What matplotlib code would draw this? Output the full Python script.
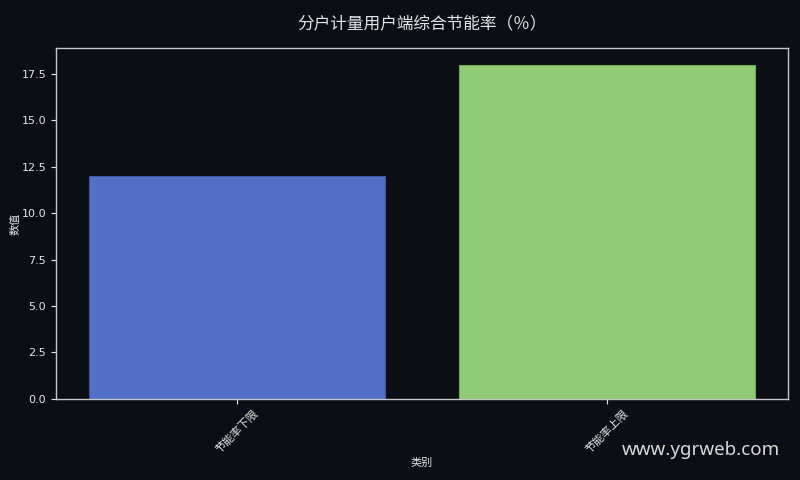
import matplotlib
matplotlib.use("Agg")
import matplotlib.pyplot as plt

# data
categories = ["节能率下限", "节能率上限"]
values = [12, 18]
bar_colors = ["#5470c6", "#91cc75"]
edge_colors = ["#3f56a0", "#6fa957"]

title = "分户计量用户端综合节能率（％）"
x_label = "类别"
y_label = "数值"
watermark = "www.ygrweb.com"

bg = "#0b0e14"
fg = "#e6e6e6"

plt.rcParams['font.family'] = ['Noto Sans CJK SC', 'DejaVu Sans']
plt.rcParams['axes.unicode_minus'] = False

fig = plt.figure(figsize=(8, 4.8), dpi=100, facecolor=bg)
ax = fig.add_axes([0.07, 0.169, 0.915, 0.731])
ax.set_facecolor(bg)

ax.bar(range(len(categories)), values, width=0.8, color=bar_colors,
       edgecolor=edge_colors, linewidth=0.8)

ax.set_xticks(range(len(categories)))
ax.set_xticklabels(categories, rotation=45, fontsize=8, color=fg)
ax.tick_params(axis='y', labelsize=8, colors=fg)
ax.tick_params(axis='x', colors=fg)
for lbl in ax.get_yticklabels():
    lbl.set_family(['DejaVu Sans'])

for s in ax.spines.values():
    s.set_color("#c8c8c8")
    s.set_linewidth(1.0)

ax.set_xlabel(x_label, fontsize=8, color=fg, labelpad=2)
ax.set_ylabel(y_label, fontsize=8, color=fg, labelpad=1)
ax.set_title(title, fontsize=12, color=fg, pad=14)

fig.text(0.975, 0.052, watermark, ha='right', va='baseline', fontsize=13.5,
         color="#d9d9d9", family=['Noto Sans', 'DejaVu Sans'])

fig.savefig("out.png", dpi=100, facecolor=bg)
